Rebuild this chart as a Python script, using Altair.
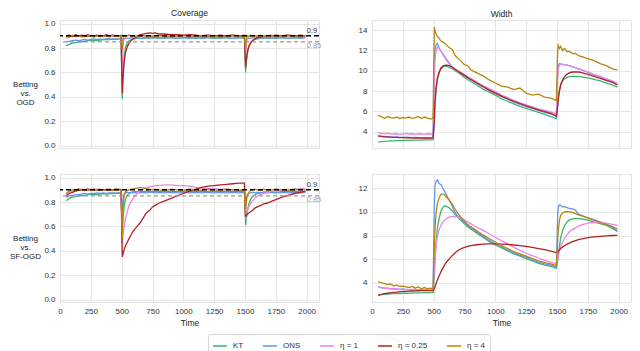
import altair as alt
import pandas as pd

T = [50, 75, 100, 125, 150, 175, 200, 225, 250, 275, 300, 325, 350, 375, 400, 425, 450, 475, 495,
     505, 510, 520, 530, 545, 560, 580, 600, 625, 650, 675, 700, 725, 750, 775, 800, 850, 900, 950,
     1000, 1050, 1100, 1150, 1200, 1250, 1300, 1350, 1400, 1450, 1495,
     1505, 1510, 1520, 1530, 1545, 1560, 1580, 1600, 1625, 1650, 1675, 1700, 1750, 1800, 1850, 1900, 1950, 1990]

SERIES = ["KT", "ONS", "η = 1", "η = 0.25", "η = 4"]
COLORS = ["#3cb371", "#6495ed", "#ee82ee", "#b22222", "#b8860b"]

# ---- Coverage, Betting vs. OGD ----
cov_ogd_kt = [0.82, 0.83, 0.84, 0.845, 0.85, 0.85, 0.855, 0.86, 0.86, 0.865, 0.86, 0.865, 0.87, 0.87, 0.87, 0.875, 0.87, 0.875, 0.875,
              0.38, 0.55, 0.72, 0.8, 0.84, 0.86, 0.87, 0.875, 0.88, 0.88, 0.88, 0.885, 0.88, 0.885, 0.885, 0.88, 0.885, 0.885, 0.88, 0.885,
              0.885, 0.88, 0.885, 0.885, 0.88, 0.885, 0.885, 0.88, 0.885, 0.885,
              0.6, 0.68, 0.76, 0.81, 0.84, 0.86, 0.87, 0.875, 0.88, 0.88, 0.885, 0.88, 0.885, 0.885, 0.88, 0.885, 0.885, 0.885]
cov_ogd_ons = [0.85, 0.855, 0.86, 0.865, 0.86, 0.865, 0.87, 0.865, 0.87, 0.875, 0.87, 0.875, 0.87, 0.875, 0.875, 0.87, 0.875, 0.875, 0.875,
               0.8, 0.86, 0.875, 0.88, 0.88, 0.88, 0.885, 0.88, 0.885, 0.88, 0.885, 0.88, 0.885, 0.88, 0.885, 0.885, 0.88, 0.885, 0.88,
               0.885, 0.88, 0.885, 0.88, 0.885, 0.885, 0.88, 0.885, 0.88, 0.885, 0.88,
               0.82, 0.86, 0.875, 0.88, 0.88, 0.885, 0.88, 0.885, 0.88, 0.885, 0.88, 0.885, 0.88, 0.885, 0.88, 0.885, 0.88, 0.885]
cov_ogd_eta1 = [0.88, 0.89, 0.895, 0.9, 0.895, 0.9, 0.895, 0.9, 0.895, 0.9, 0.9, 0.895, 0.9, 0.895, 0.9, 0.9, 0.895, 0.9, 0.9,
                0.55, 0.82, 0.89, 0.9, 0.9, 0.905, 0.9, 0.9, 0.895, 0.9, 0.9, 0.895, 0.9, 0.9, 0.895, 0.9, 0.9, 0.895, 0.9, 0.9,
                0.895, 0.9, 0.9, 0.895, 0.9, 0.9, 0.895, 0.9, 0.9, 0.9,
                0.72, 0.84, 0.88, 0.89, 0.9, 0.9, 0.895, 0.9, 0.9, 0.895, 0.9, 0.9, 0.895, 0.9, 0.9, 0.895, 0.9, 0.9]
cov_ogd_eta025 = [0.9, 0.905, 0.895, 0.91, 0.9, 0.905, 0.895, 0.91, 0.9, 0.9, 0.905, 0.895, 0.9, 0.91, 0.9, 0.905, 0.9, 0.9, 0.905,
                  0.43, 0.55, 0.68, 0.76, 0.81, 0.84, 0.865, 0.88, 0.895, 0.91, 0.915, 0.92, 0.925, 0.92, 0.925, 0.915, 0.915, 0.91, 0.91, 0.905,
                  0.91, 0.905, 0.9, 0.905, 0.9, 0.905, 0.9, 0.905, 0.9, 0.905,
                  0.64, 0.7, 0.77, 0.81, 0.84, 0.86, 0.875, 0.885, 0.89, 0.895, 0.9, 0.9, 0.905, 0.9, 0.905, 0.9, 0.905, 0.9]
cov_ogd_eta4 = [0.9, 0.89, 0.905, 0.895, 0.9, 0.89, 0.905, 0.895, 0.9, 0.89, 0.9, 0.905, 0.895, 0.9, 0.89, 0.905, 0.9, 0.895, 0.9,
                0.78, 0.88, 0.9, 0.895, 0.9, 0.905, 0.895, 0.9, 0.895, 0.9, 0.905, 0.895, 0.9, 0.895, 0.9, 0.905, 0.895, 0.9, 0.895, 0.905,
                0.9, 0.895, 0.9, 0.905, 0.895, 0.9, 0.895, 0.905, 0.9, 0.895,
                0.78, 0.88, 0.9, 0.895, 0.905, 0.9, 0.895, 0.9, 0.905, 0.895, 0.9, 0.905, 0.895, 0.9, 0.905, 0.895, 0.9, 0.9]

# ---- Width, Betting vs. OGD ----
wid_ogd_kt = [3.0, 3.02, 3.05, 3.07, 3.1, 3.1, 3.12, 3.12, 3.15, 3.15, 3.15, 3.17, 3.17, 3.18, 3.18, 3.2, 3.2, 3.2, 3.22,
              5.0, 6.5, 8.2, 9.1, 9.8, 10.2, 10.4, 10.45, 10.35, 10.2, 10.0, 9.8, 9.6, 9.35, 9.15, 8.95, 8.6, 8.2, 7.9, 7.6,
              7.25, 7.0, 6.75, 6.5, 6.3, 6.1, 5.9, 5.7, 5.5, 5.3,
              6.5, 7.3, 8.2, 8.7, 9.0, 9.2, 9.35, 9.42, 9.45, 9.45, 9.42, 9.4, 9.3, 9.15, 9.0, 8.8, 8.6, 8.4]
wid_ogd_ons = [3.6, 3.55, 3.55, 3.5, 3.5, 3.48, 3.5, 3.45, 3.45, 3.48, 3.45, 3.42, 3.45, 3.42, 3.4, 3.42, 3.4, 3.42, 3.4,
               10.5, 12.0, 12.6, 12.7, 12.2, 11.9, 11.6, 11.2, 10.8, 10.4, 10.1, 9.9, 9.75, 9.55, 9.35, 9.15, 8.8, 8.4, 8.1, 7.8,
               7.45, 7.2, 6.95, 6.7, 6.5, 6.3, 6.1, 5.9, 5.75, 5.5,
               9.5, 10.5, 10.7, 10.65, 10.6, 10.6, 10.55, 10.5, 10.4, 10.3, 10.2, 10.1, 9.85, 9.6, 9.4, 9.15, 8.9, 8.6]
wid_ogd_eta1 = [3.9, 3.85, 3.8, 3.85, 3.8, 3.78, 3.8, 3.75, 3.8, 3.82, 3.78, 3.8, 3.75, 3.8, 3.78, 3.75, 3.8, 3.78, 3.8,
                9.0, 11.0, 12.0, 12.3, 12.2, 11.9, 11.5, 11.1, 10.7, 10.4, 10.15, 9.95, 9.8, 9.6, 9.4, 9.25, 8.9, 8.55, 8.25, 7.95,
                7.6, 7.35, 7.1, 6.85, 6.65, 6.45, 6.25, 6.1, 5.95, 5.75,
                9.0, 10.2, 10.6, 10.7, 10.65, 10.6, 10.55, 10.5, 10.4, 10.3, 10.2, 10.1, 9.9, 9.65, 9.45, 9.2, 9.0, 8.75]
wid_ogd_eta025 = [3.6, 3.55, 3.5, 3.5, 3.47, 3.45, 3.45, 3.42, 3.42, 3.4, 3.42, 3.4, 3.38, 3.4, 3.38, 3.4, 3.38, 3.38, 3.4,
                  5.2, 6.8, 8.4, 9.3, 9.9, 10.3, 10.5, 10.55, 10.5, 10.35, 10.15, 9.95, 9.75, 9.55, 9.35, 9.15, 8.8, 8.45, 8.1, 7.8,
                  7.5, 7.25, 7.0, 6.78, 6.55, 6.35, 6.15, 5.97, 5.8, 5.55,
                  6.5, 7.2, 8.0, 8.6, 9.1, 9.4, 9.65, 9.8, 9.88, 9.9, 9.88, 9.82, 9.65, 9.45, 9.25, 9.05, 8.85, 8.6]
wid_ogd_eta4 = [5.6, 5.5, 5.3, 5.5, 5.4, 5.35, 5.45, 5.3, 5.4, 5.35, 5.45, 5.3, 5.4, 5.5, 5.3, 5.45, 5.35, 5.25, 5.35,
                14.3, 14.0, 13.6, 13.4, 13.2, 12.9, 12.8, 12.6, 12.3, 12.1, 11.5, 11.2, 10.9, 10.6, 10.5, 10.1, 9.8, 9.5, 9.1, 8.8,
                8.5, 8.4, 8.15, 8.3, 7.8, 7.6, 7.7, 7.4, 7.3, 7.1,
                12.0, 12.5, 12.2, 12.4, 12.0, 12.2, 11.9, 11.9, 11.7, 11.7, 11.5, 11.4, 11.2, 11.0, 10.7, 10.5, 10.2, 10.1]

# ---- Coverage, Betting vs. SF-OGD ----
cov_sf_kt = [0.81, 0.83, 0.84, 0.845, 0.85, 0.855, 0.85, 0.86, 0.86, 0.865, 0.86, 0.865, 0.87, 0.865, 0.87, 0.87, 0.875, 0.87, 0.875,
             0.55, 0.65, 0.76, 0.82, 0.855, 0.87, 0.88, 0.885, 0.885, 0.89, 0.885, 0.89, 0.885, 0.885, 0.89, 0.885, 0.89, 0.885, 0.885, 0.89,
             0.885, 0.89, 0.885, 0.885, 0.89, 0.885, 0.89, 0.885, 0.885, 0.89,
             0.61, 0.66, 0.73, 0.78, 0.82, 0.845, 0.86, 0.87, 0.875, 0.88, 0.885, 0.885, 0.88, 0.885, 0.885, 0.89, 0.885, 0.885]
cov_sf_ons = [0.84, 0.85, 0.855, 0.86, 0.86, 0.865, 0.87, 0.865, 0.87, 0.87, 0.875, 0.87, 0.875, 0.87, 0.875, 0.875, 0.87, 0.875, 0.875,
              0.72, 0.82, 0.86, 0.875, 0.88, 0.875, 0.88, 0.875, 0.88, 0.875, 0.88, 0.875, 0.88, 0.88, 0.875, 0.88, 0.875, 0.88, 0.875, 0.88,
              0.875, 0.88, 0.875, 0.88, 0.875, 0.88, 0.875, 0.88, 0.875, 0.88,
              0.76, 0.83, 0.86, 0.87, 0.875, 0.88, 0.875, 0.88, 0.875, 0.88, 0.875, 0.88, 0.875, 0.88, 0.875, 0.88, 0.875, 0.88]
cov_sf_eta1 = [0.86, 0.88, 0.89, 0.895, 0.9, 0.905, 0.9, 0.9, 0.905, 0.9, 0.9, 0.905, 0.9, 0.895, 0.9, 0.9, 0.905, 0.9, 0.9,
               0.46, 0.52, 0.6, 0.66, 0.72, 0.77, 0.81, 0.84, 0.87, 0.89, 0.91, 0.92, 0.925, 0.93, 0.935, 0.935, 0.94, 0.94, 0.935, 0.935,
               0.93, 0.92, 0.915, 0.91, 0.91, 0.905, 0.905, 0.9, 0.9, 0.9,
               0.66, 0.69, 0.73, 0.76, 0.79, 0.81, 0.83, 0.85, 0.86, 0.87, 0.88, 0.885, 0.89, 0.895, 0.9, 0.905, 0.91, 0.91]
cov_sf_eta025 = [0.85, 0.87, 0.88, 0.89, 0.895, 0.9, 0.895, 0.9, 0.9, 0.905, 0.9, 0.895, 0.9, 0.9, 0.905, 0.9, 0.9, 0.905, 0.9,
                 0.35, 0.37, 0.41, 0.44, 0.47, 0.5, 0.54, 0.57, 0.6, 0.63, 0.67, 0.71, 0.73, 0.76, 0.775, 0.79, 0.81, 0.83, 0.85, 0.87,
                 0.89, 0.905, 0.92, 0.93, 0.935, 0.94, 0.945, 0.95, 0.955, 0.955,
                 0.68, 0.69, 0.7, 0.71, 0.72, 0.73, 0.75, 0.76, 0.77, 0.785, 0.79, 0.8, 0.82, 0.84, 0.855, 0.87, 0.88, 0.89]
cov_sf_eta4 = [0.87, 0.89, 0.9, 0.895, 0.91, 0.9, 0.895, 0.91, 0.9, 0.895, 0.905, 0.9, 0.895, 0.905, 0.9, 0.895, 0.91, 0.9, 0.9,
               0.5, 0.75, 0.86, 0.885, 0.895, 0.9, 0.905, 0.91, 0.915, 0.92, 0.915, 0.91, 0.905, 0.9, 0.905, 0.9, 0.895, 0.905, 0.9, 0.895,
               0.905, 0.9, 0.895, 0.905, 0.9, 0.895, 0.905, 0.9, 0.895, 0.9,
               0.7, 0.8, 0.86, 0.88, 0.895, 0.9, 0.905, 0.9, 0.895, 0.905, 0.9, 0.895, 0.905, 0.9, 0.895, 0.905, 0.9, 0.9]

# ---- Width, Betting vs. SF-OGD ----
wid_sf_kt = [2.95, 3.0, 3.02, 3.05, 3.07, 3.08, 3.1, 3.1, 3.12, 3.12, 3.13, 3.13, 3.15, 3.15, 3.15, 3.17, 3.17, 3.17, 3.18,
             4.5, 5.8, 7.5, 8.6, 9.5, 10.1, 10.45, 10.5, 10.35, 10.1, 9.8, 9.5, 9.25, 9.0, 8.75, 8.55, 8.2, 7.85, 7.5, 7.2,
             6.95, 6.7, 6.45, 6.25, 6.05, 5.85, 5.65, 5.5, 5.4, 5.25,
             5.8, 6.3, 7.1, 7.8, 8.4, 8.8, 9.15, 9.3, 9.4, 9.42, 9.42, 9.4, 9.3, 9.15, 9.0, 8.85, 8.6, 8.35]
wid_sf_ons = [3.65, 3.6, 3.55, 3.55, 3.5, 3.52, 3.48, 3.45, 3.48, 3.45, 3.42, 3.45, 3.4, 3.42, 3.4, 3.42, 3.38, 3.4, 3.38,
              10.5, 12.2, 12.6, 12.7, 12.4, 12.3, 11.9, 11.5, 11.0, 10.5, 9.9, 9.6, 9.35, 9.1, 8.85, 8.65, 8.3, 7.95, 7.6, 7.3,
              7.05, 6.8, 6.55, 6.35, 6.15, 5.95, 5.75, 5.6, 5.5, 5.35,
              9.5, 10.4, 10.6, 10.55, 10.4, 10.45, 10.35, 10.3, 10.25, 10.15, 9.8, 9.7, 9.5, 9.35, 9.15, 8.95, 8.7, 8.4]
wid_sf_eta1 = [3.65, 3.6, 3.55, 3.52, 3.5, 3.5, 3.48, 3.45, 3.45, 3.43, 3.42, 3.4, 3.4, 3.4, 3.38, 3.38, 3.37, 3.37, 3.36,
               5.0, 6.0, 7.2, 7.9, 8.5, 8.9, 9.2, 9.4, 9.55, 9.62, 9.6, 9.55, 9.45, 9.3, 9.15, 9.0, 8.7, 8.45, 8.15, 7.85,
               7.55, 7.3, 7.0, 6.75, 6.5, 6.3, 6.1, 5.9, 5.75, 5.6,
               5.9, 6.2, 6.7, 7.05, 7.45, 7.75, 8.05, 8.3, 8.5, 8.65, 8.8, 8.9, 9.05, 9.1, 9.12, 9.05, 8.95, 8.85]
wid_sf_eta025 = [2.95, 3.02, 3.08, 3.12, 3.16, 3.2, 3.22, 3.25, 3.27, 3.28, 3.3, 3.31, 3.32, 3.33, 3.34, 3.34, 3.35, 3.35, 3.35,
                 3.5, 3.65, 3.95, 4.25, 4.6, 4.95, 5.35, 5.7, 6.0, 6.3, 6.55, 6.75, 6.9, 7.0, 7.08, 7.15, 7.22, 7.27, 7.3, 7.3,
                 7.28, 7.25, 7.2, 7.15, 7.08, 7.0, 6.9, 6.8, 6.68, 6.55,
                 6.6, 6.68, 6.8, 6.9, 7.02, 7.13, 7.25, 7.36, 7.48, 7.57, 7.65, 7.72, 7.82, 7.88, 7.93, 7.97, 8.0, 8.02]
wid_sf_eta4 = [4.1, 4.0, 3.95, 3.85, 3.9, 3.75, 3.8, 3.7, 3.72, 3.65, 3.6, 3.7, 3.55, 3.65, 3.5, 3.6, 3.5, 3.55, 3.5,
               7.0, 8.5, 9.9, 10.7, 11.2, 11.5, 11.5, 11.3, 11.0, 10.65, 10.2, 9.8, 9.5, 9.2, 8.95, 8.75, 8.4, 8.05, 7.75, 7.45,
               7.15, 6.9, 6.65, 6.45, 6.25, 6.05, 5.85, 5.7, 5.6, 5.45,
               7.5, 8.4, 9.3, 9.7, 9.9, 10.0, 10.02, 10.0, 9.95, 9.85, 9.75, 9.65, 9.5, 9.3, 9.1, 8.95, 8.75, 8.55]

# reference levels drawn in the coverage panels
GUIDE_LEVELS = [0.9, 0.85]
GUIDE_LABELS = ["0.9", "0.85"]

X_TICKS = [0, 250, 500, 750, 1000, 1250, 1500, 1750, 2000]
COV_TICKS = [0.0, 0.2, 0.4, 0.6, 0.8, 1.0]
WID_TOP_TICKS = [4, 6, 8, 10, 12, 14]
WID_BOT_TICKS = [4, 6, 8, 10, 12]

FONT = "Liberation Sans"
W, H = 259, 128


def make_df(series_vals):
    rows = []
    for name, vals in zip(SERIES, series_vals):
        assert len(vals) == len(T), (name, len(vals))
        for t, v in zip(T, vals):
            rows.append({"Time": t, "value": v, "series": name})
    return pd.DataFrame(rows)


color = alt.Color(
    "series:N",
    scale=alt.Scale(domain=SERIES, range=COLORS),
    sort=SERIES,
    legend=alt.Legend(
        orient="none", legendX=148, legendY=314, direction="horizontal", title=None,
        symbolType="stroke", symbolSize=196, symbolStrokeWidth=1.5,
        labelFont=FONT, labelFontSize=8, labelColor="#333", labelOffset=5,
        columnPadding=16, padding=4, strokeColor="#d6d6d6", fillColor="white", cornerRadius=2,
    ),
)


def panel(vals, ydom, yticks, yfmt, top, rowtitle=None, coltitle=None, guides=False):
    df = make_df(vals)
    xscale = alt.Scale(domain=[0, 2100], nice=False, zero=False)
    yscale = alt.Scale(domain=ydom, nice=False, zero=False)
    if top:
        xaxis = alt.Axis(values=X_TICKS, labels=False, title=None)
    else:
        xaxis = alt.Axis(values=X_TICKS, title="Time", format="d")
    if rowtitle:
        yaxis = alt.Axis(values=yticks, format=yfmt, title=rowtitle, titleAngle=0, titleAlign="center",
                         titleBaseline="middle", titleX=-35, titleY=H / 2, titleFontSize=8, titleLineHeight=9)
    else:
        yaxis = alt.Axis(values=yticks, format=yfmt, title=None)
    X = alt.X("Time:Q", scale=xscale, axis=xaxis)
    Y = alt.Y("value:Q", scale=yscale, axis=yaxis)
    base = alt.Chart(df).mark_line(strokeWidth=1.3, clip=True).encode(x=X, y=Y, color=color)
    layers = [base]
    if guides:
        g = pd.DataFrame({"value": GUIDE_LEVELS, "label": GUIDE_LABELS, "Time": [2000, 2000]})
        layers.append(alt.Chart(g).transform_filter(alt.datum.label == "0.85")
                      .mark_rule(strokeDash=[4, 3], strokeWidth=1.3)
                      .encode(y=Y, color=alt.value("#999999")))
        layers.append(alt.Chart(g).transform_filter(alt.datum.label == "0.9")
                      .mark_rule(strokeDash=[5, 3], strokeWidth=1.5)
                      .encode(y=Y, color=alt.value("black")))
        layers.append(alt.Chart(g).transform_filter(alt.datum.label == "0.9")
                      .mark_text(align="left", baseline="bottom", dy=-1, font=FONT, fontSize=7.5)
                      .encode(x=X, y=Y, text="label:N", color=alt.value("#333333")))
        layers.append(alt.Chart(g).transform_filter(alt.datum.label == "0.85")
                      .mark_text(align="left", baseline="top", dy=0, font=FONT, fontSize=7.5)
                      .encode(x=X, y=Y, text="label:N", color=alt.value("#a0a0a0")))
    ch = alt.layer(*layers).properties(width=W, height=H)
    if coltitle:
        ch = ch.properties(title=alt.TitleParams(coltitle, anchor="middle"))
    return ch


c1 = panel([cov_ogd_kt, cov_ogd_ons, cov_ogd_eta1, cov_ogd_eta025, cov_ogd_eta4], [-0.02, 1.03], COV_TICKS, ".1f",
           True, rowtitle=["Betting", "vs.", "OGD"], coltitle="Coverage", guides=True)
c2 = panel([wid_ogd_kt, wid_ogd_ons, wid_ogd_eta1, wid_ogd_eta025, wid_ogd_eta4], [2.4, 15.0], WID_TOP_TICKS, "d",
           True, coltitle="Width")
c3 = panel([cov_sf_kt, cov_sf_ons, cov_sf_eta1, cov_sf_eta025, cov_sf_eta4], [-0.02, 1.03], COV_TICKS, ".1f",
           False, rowtitle=["Betting", "vs.", "SF-OGD"], guides=True)
c4 = panel([wid_sf_kt, wid_sf_ons, wid_sf_eta1, wid_sf_eta025, wid_sf_eta4], [2.38, 13.2], WID_BOT_TICKS, "d",
           False)

chart = alt.concat(c1, c2, c3, c4, columns=2, spacing={"row": 26, "column": 53}, bounds="flush").properties(
    padding=0
).configure_view(
    stroke="#e2e2e2", strokeWidth=1
).configure_axis(
    domain=False, ticks=False, grid=True, gridColor="#e6e6e6", gridWidth=1.2,
    labelFont=FONT, labelFontSize=8, labelColor="#333", labelPadding=5,
    labelOverlap=False, labelFlush=False, labelBound=False,
    titleFont=FONT, titleFontSize=8.5, titleFontWeight="normal", titleColor="#222", titlePadding=3,
).configure_title(
    font=FONT, fontSize=8.5, fontWeight="normal", color="#222", offset=2
)

chart.save("out.html", embed_options={"renderer": "svg", "actions": False})
